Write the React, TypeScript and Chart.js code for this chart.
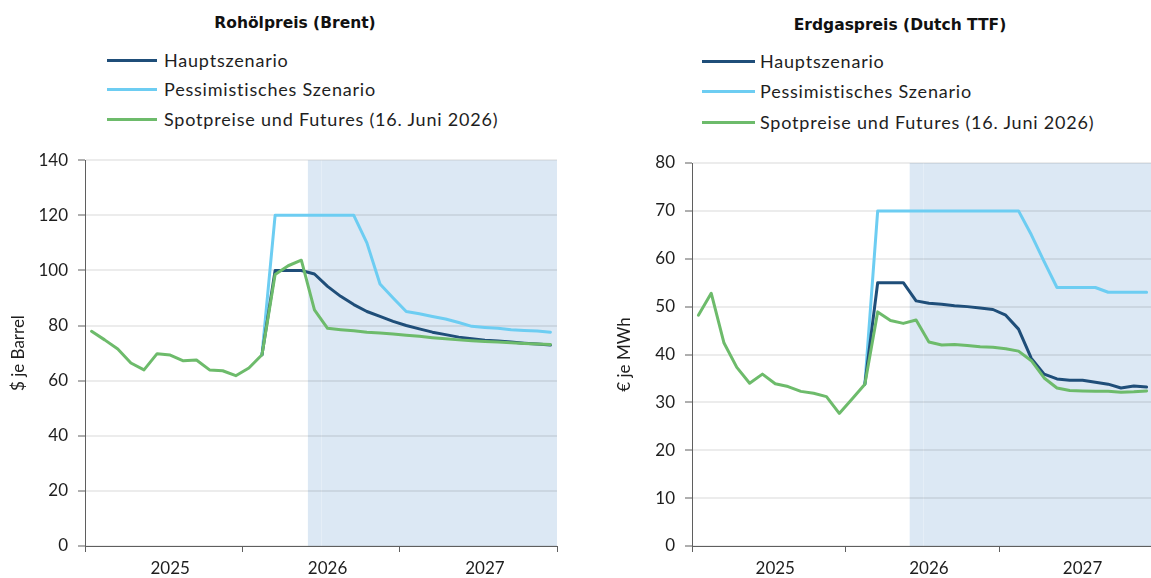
import React, { useEffect, useRef } from 'react';
import { Chart, registerables } from 'chart.js';

Chart.register(...registerables);

// ---------- data ----------
const MONTHS = [
  'Jan 2025', 'Feb 2025', 'Mär 2025', 'Apr 2025', 'Mai 2025', 'Jun 2025',
  'Jul 2025', 'Aug 2025', 'Sep 2025', 'Okt 2025', 'Nov 2025', 'Dez 2025',
  'Jan 2026', 'Feb 2026', 'Mär 2026', 'Apr 2026', 'Mai 2026', 'Jun 2026',
  'Jul 2026', 'Aug 2026', 'Sep 2026', 'Okt 2026', 'Nov 2026', 'Dez 2026',
  'Jan 2027', 'Feb 2027', 'Mär 2027', 'Apr 2027', 'Mai 2027', 'Jun 2027',
  'Jul 2027', 'Aug 2027', 'Sep 2027', 'Okt 2027', 'Nov 2027', 'Dez 2027',
];
const YEAR_LABELS = ['2025', '2026', '2027'];
const FORECAST_START = 'Jun 2026';

const SERIES_NAMES = ['Hauptszenario', 'Pessimistisches Szenario', 'Spotpreise und Futures (16. Juni 2026)'];

const OIL_SPOT = [
  77.9, 74.8, 71.5, 66.4, 63.9, 69.8, 69.3, 67.2, 67.5, 63.9, 63.6, 61.8,
  64.6, 69.4, 98.5, 101.7, 103.7, 85.7, 79.0, 78.5, 78.1, 77.6, 77.3, 76.9,
  76.5, 76.1, 75.6, 75.2, 74.8, 74.5, 74.2, 74.0, 73.8, 73.5, 73.3, 73.1,
];
const OIL_MAIN = [
  null, null, null, null, null, null, null, null, null, null, null, null,
  null, 69.4, 100, 100, 100, 98.7, 94.2, 90.6, 87.6, 85.1, 83.3, 81.5,
  80.0, 78.8, 77.6, 76.7, 75.8, 75.2, 74.7, 74.4, 74.0, 73.6, 73.3, 72.9,
];
const OIL_PESS = [
  null, null, null, null, null, null, null, null, null, null, null, null,
  null, 69.4, 120, 120, 120, 120, 120, 120, 120, 110, 95.1, 90.0,
  85.1, 84.3, 83.3, 82.4, 81.1, 79.7, 79.3, 79.0, 78.5, 78.2, 78.0, 77.6,
];

const GAS_SPOT = [
  48.2, 52.8, 42.4, 37.3, 34.0, 35.9, 33.9, 33.3, 32.3, 31.9, 31.2, 27.7,
  30.7, 33.8, 48.9, 47.1, 46.5, 47.2, 42.6, 42.0, 42.1, 41.9, 41.6, 41.5,
  41.2, 40.7, 38.7, 35.1, 33.0, 32.5, 32.4, 32.3, 32.3, 32.1, 32.2, 32.4,
];
const GAS_MAIN = [
  null, null, null, null, null, null, null, null, null, null, null, null,
  null, 33.8, 55, 55, 55, 51.2, 50.7, 50.5, 50.2, 50.0, 49.7, 49.4,
  48.2, 45.3, 39.2, 35.9, 34.9, 34.6, 34.6, 34.2, 33.8, 33.0, 33.4, 33.2,
];
const GAS_PESS = [
  null, null, null, null, null, null, null, null, null, null, null, null,
  null, 33.8, 70, 70, 70, 70, 70, 70, 70, 70, 70, 70,
  70, 70, 65, 59.4, 54, 54, 54, 54, 53, 53, 53, 53,
];

// ---------- styles ----------
const FONT = "Lato, 'Noto Sans', sans-serif";
const TITLE_FONT = "'DejaVu Sans', Verdana, sans-serif";
const TEXT = '#1e1e1e';
const AXIS = '#5f5f5f';
const GRID = 'rgba(0,0,0,0.075)';
const SHADE = '#dce8f4';
const COLORS = ['#1f4e79', '#6dcdf2', '#6dbb6b'];

Chart.defaults.font.family = FONT;
Chart.defaults.color = TEXT;

const BOUNDARY_TICKS = [0, 12, 24, 36];
const LABEL_TICKS = [6.5, 18.5, 30.5];

const toPoints = (arr: (number | null)[]) =>
  arr.map((v, i) => ({ x: MONTHS.indexOf(MONTHS[i]) + 0.5, y: v }));

const shadePlugin = {
  id: 'shade',
  beforeDraw(chart: any) {
    const { ctx, chartArea: a, scales } = chart;
    const x = scales.x;
    const startIdx = MONTHS.indexOf(FORECAST_START);
    const x0 = x.getPixelForValue(startIdx);
    ctx.save();
    ctx.fillStyle = SHADE;
    ctx.fillRect(x0, a.top, a.right - x0, a.bottom - a.top);
    const x1 = Math.round(x.getPixelForValue(startIdx + 1)) + 0.5;
    ctx.strokeStyle = 'rgba(255,255,255,0.25)';
    ctx.lineWidth = 1;
    ctx.beginPath();
    ctx.moveTo(x1, a.top);
    ctx.lineTo(x1, a.bottom);
    ctx.stroke();
    ctx.restore();
  },
};

type Cfg = {
  main: (number | null)[];
  pess: (number | null)[];
  spot: (number | null)[];
  yMax: number;
  yStep: number;
  yTitle: string;
  yWidth: number;
  titlePad: number;
  topPad: number;
  rightPad: number;
};

function buildChart(canvas: HTMLCanvasElement, c: Cfg) {
  return new Chart(canvas, {
    type: 'line',
    data: {
      datasets: [
        { label: SERIES_NAMES[2], data: toPoints(c.spot), borderColor: COLORS[2] },
        { label: SERIES_NAMES[0], data: toPoints(c.main), borderColor: COLORS[0] },
        { label: SERIES_NAMES[1], data: toPoints(c.pess), borderColor: COLORS[1] },
      ] as any,
    },
    plugins: [shadePlugin],
    options: {
      responsive: false,
      animation: false,
      events: [],
      spanGaps: false,
      layout: { padding: { left: 0, right: c.rightPad, top: c.topPad, bottom: 0 } },
      elements: {
        point: { radius: 0 },
        line: { borderWidth: 3, tension: 0, borderJoinStyle: 'round', borderCapStyle: 'round' },
      },
      plugins: {
        legend: { display: false },
        tooltip: { enabled: false },
      },
      scales: {
        x: {
          type: 'linear',
          min: 0,
          max: 36,
          afterBuildTicks: (s: any) => {
            s.ticks = [...BOUNDARY_TICKS, ...LABEL_TICKS].sort((a, b) => a - b).map((v) => ({ value: v }));
          },
          afterFit: (s: any) => {
            s.height = 32;
          },
          grid: {
            drawOnChartArea: false,
            drawTicks: true,
            tickLength: 6,
            tickWidth: 1,
            tickColor: (ctx: any) =>
              ctx.tick && BOUNDARY_TICKS.includes(ctx.tick.value) ? AXIS : 'rgba(0,0,0,0)',
          },
          border: { display: true, color: AXIS, width: 1 },
          ticks: {
            autoSkip: false,
            maxRotation: 0,
            minRotation: 0,
            padding: 6,
            color: TEXT,
            font: { size: 17 },
            callback: (v: any) => {
              const i = LABEL_TICKS.indexOf(Number(v));
              return i >= 0 ? YEAR_LABELS[i] : '';
            },
          },
        },
        y: {
          min: 0,
          max: c.yMax,
          afterFit: (s: any) => {
            s.width = c.yWidth;
          },
          ticks: { stepSize: c.yStep, padding: 10, color: TEXT, font: { size: 17 } },
          grid: { color: GRID, lineWidth: 2, tickLength: 7, tickWidth: 1, tickColor: AXIS },
          border: { display: true, color: AXIS, width: 1 },
          title: {
            display: true,
            text: c.yTitle,
            color: TEXT,
            font: { size: 17 },
            padding: { top: c.titlePad, bottom: 0 },
          },
        },
      },
    } as any,
  });
}

function Legend({ left, lineX, lineW, rows }: { left: number; lineX: number; lineW: number; rows: number[] }) {
  return (
    <>
      {SERIES_NAMES.map((name, i) => (
        <div
          key={name}
          style={{
            position: 'absolute',
            left: lineX,
            top: rows[i] - 12,
            height: 24,
            display: 'flex',
            alignItems: 'center',
            whiteSpace: 'nowrap',
          }}
        >
          <span style={{ display: 'inline-block', width: lineW, height: 3, background: COLORS[i] }} />
          <span
            style={{
              marginLeft: left - lineX - lineW,
              fontSize: 18,
              letterSpacing: 0.8,
              color: TEXT,
              fontFamily: FONT,
            }}
          >
            {name}
          </span>
        </div>
      ))}
    </>
  );
}

export default function App() {
  const oilRef = useRef<HTMLCanvasElement>(null);
  const gasRef = useRef<HTMLCanvasElement>(null);

  useEffect(() => {
    const oil = buildChart(oilRef.current!, {
      main: OIL_MAIN,
      pess: OIL_PESS,
      spot: OIL_SPOT,
      yMax: 140,
      yStep: 20,
      yTitle: '$ je Barrel',
      yWidth: 85,
      titlePad: 8,
      topPad: 20,
      rightPad: 23,
    });
    const gas = buildChart(gasRef.current!, {
      main: GAS_MAIN,
      pess: GAS_PESS,
      spot: GAS_SPOT,
      yMax: 80,
      yStep: 10,
      yTitle: '€ je MWh',
      yWidth: 92,
      titlePad: 14,
      topPad: 23,
      rightPad: 0,
    });
    return () => {
      oil.destroy();
      gas.destroy();
    };
  }, []);

  const titleStyle: React.CSSProperties = {
    position: 'absolute',
    transform: 'translate(-50%, -50%)',
    fontFamily: TITLE_FONT,
    fontWeight: 700,
    fontSize: 15.5,
    color: '#111',
    whiteSpace: 'nowrap',
  };

  return (
    <div
      style={{
        position: 'fixed',
        left: 0,
        top: 0,
        width: 1151,
        height: 578,
        overflow: 'hidden',
        background: '#fff',
        fontFamily: FONT,
      }}
    >
      <div style={{ ...titleStyle, left: 295, top: 23 }}>Rohölpreis (Brent)</div>
      <div style={{ ...titleStyle, left: 900, top: 25 }}>Erdgaspreis (Dutch TTF)</div>
      <Legend left={164} lineX={107} lineW={50} rows={[60, 89, 119]} />
      <Legend left={760} lineX={702} lineW={53} rows={[61, 91, 122]} />
      <canvas
        ref={oilRef}
        width={580}
        height={438}
        style={{ position: 'absolute', left: 0, top: 140, width: 580, height: 438 }}
      />
      <canvas
        ref={gasRef}
        width={559}
        height={438}
        style={{ position: 'absolute', left: 600, top: 140, width: 559, height: 438 }}
      />
    </div>
  );
}
